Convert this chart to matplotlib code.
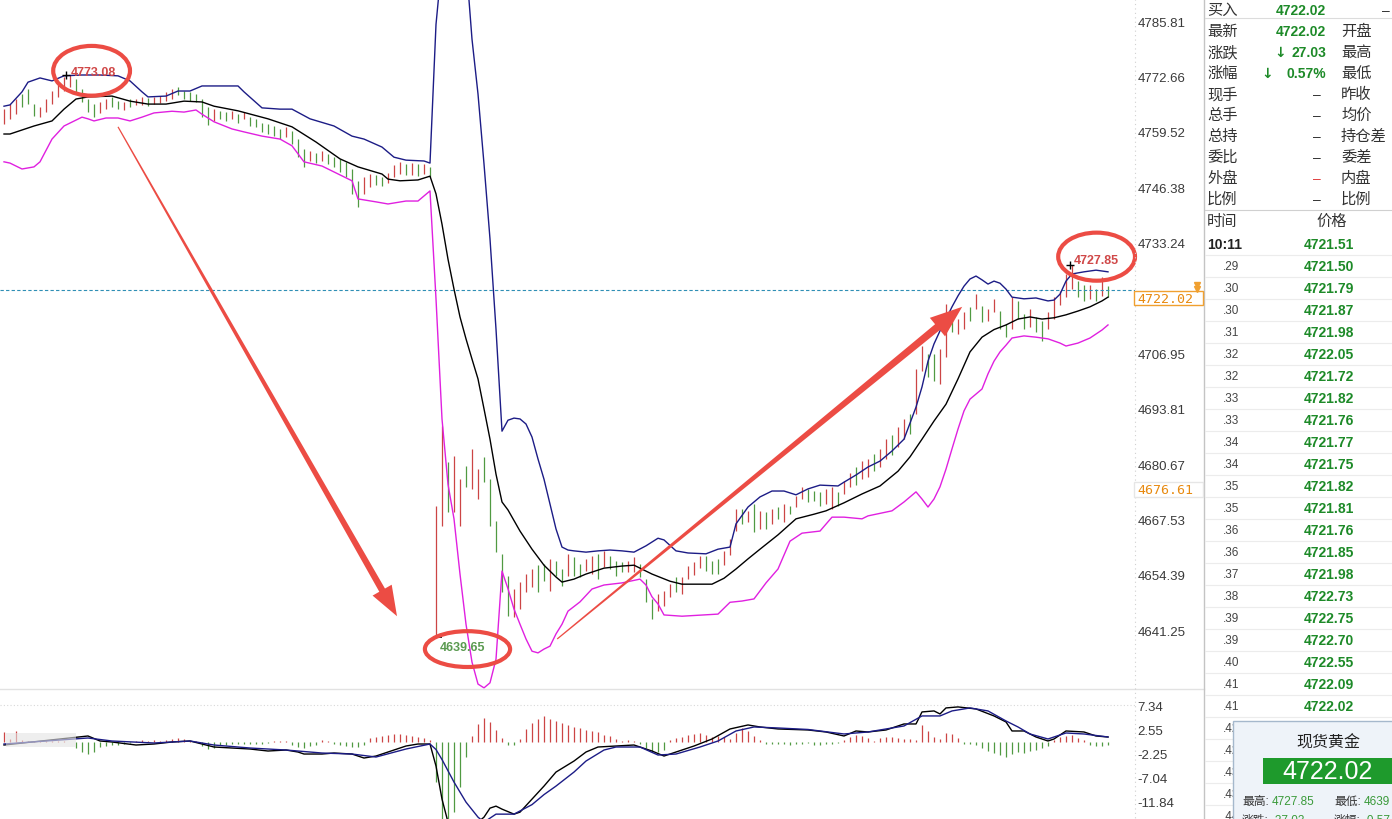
import numpy as np
import matplotlib
matplotlib.use("Agg")
import matplotlib.pyplot as plt
from matplotlib.patches import Ellipse, Polygon, Rectangle
from matplotlib.transforms import IdentityTransform

plt.rcParams['font.family'] = ['Liberation Sans', 'Noto Sans CJK SC', 'DejaVu Sans']

# ---------------- data ----------------
bar_hi = [4764.9, 4766.1, 4767.3, 4768.5, 4769.7, 4766.1, 4765.4, 4767.3, 4769.2, 4770.9,
          4772.5, 4773.08, 4772.1, 4769.7, 4767.3, 4766.1, 4766.6, 4767.3, 4767.8, 4766.8,
          4766.6, 4767.3, 4767.3, 4767.8, 4767.5, 4767.8, 4768.0, 4769.0, 4769.7, 4770.2,
          4769.2, 4769.0, 4768.5, 4767.3, 4765.4, 4764.9, 4764.5, 4764.2, 4764.5, 4763.7,
          4764.2, 4763.0, 4762.6, 4761.6, 4761.4, 4760.9, 4760.2, 4760.7, 4759.7, 4757.8,
          4755.4, 4755.0, 4754.5, 4755.0, 4754.3, 4753.5, 4753.1, 4752.4, 4750.7, 4747.9,
          4748.8, 4749.5, 4749.3, 4748.8, 4749.7, 4751.6, 4752.4, 4751.9, 4752.1, 4751.9,
          4751.9, 4751.2, 4670.7, 4689.7, 4681.2, 4682.6, 4677.2, 4680.2, 4684.3, 4679.5,
          4682.4, 4677.2, 4667.2, 4659.4, 4654.1, 4651.1, 4652.7, 4654.6, 4655.8, 4656.7,
          4657.0, 4658.2, 4657.7, 4655.8, 4659.4, 4658.6, 4657.0, 4658.2, 4658.9, 4659.4,
          4660.1, 4658.9, 4657.7, 4657.5, 4657.7, 4658.6, 4657.0, 4653.4, 4648.7, 4649.9,
          4650.6, 4652.2, 4653.9, 4653.9, 4656.5, 4657.5, 4658.9, 4658.9, 4657.7, 4658.2,
          4660.1, 4662.9, 4670.0, 4670.0, 4669.6, 4671.2, 4669.6, 4669.3, 4670.0, 4670.5,
          4671.2, 4670.7, 4673.1, 4675.3, 4674.8, 4674.3, 4674.1, 4674.8, 4675.3, 4674.1,
          4676.7, 4678.6, 4680.0, 4681.4, 4681.9, 4683.1, 4684.3, 4686.6, 4687.6, 4689.5,
          4691.4, 4692.6, 4703.3, 4708.7, 4706.8, 4706.8, 4708.0, 4718.7, 4715.1, 4715.1,
          4716.7, 4717.9, 4721.0, 4718.2, 4717.5, 4719.9, 4717.0, 4713.9, 4720.3, 4719.4,
          4716.3, 4717.5, 4715.6, 4714.6, 4716.7, 4720.3, 4721.8, 4725.8, 4727.85, 4724.1,
          4723.2, 4723.2, 4722.2, 4725.1, 4722.9]
bar_lo = [4761.4, 4762.6, 4763.7, 4765.4, 4766.1, 4763.3, 4763.0, 4764.2, 4766.1, 4767.8,
          4769.2, 4770.2, 4768.5, 4766.6, 4764.2, 4763.0, 4764.0, 4764.9, 4765.4, 4764.9,
          4764.7, 4765.4, 4765.9, 4765.9, 4765.6, 4766.1, 4766.4, 4766.8, 4767.3, 4768.3,
          4767.3, 4766.8, 4766.6, 4763.0, 4761.1, 4762.1, 4762.6, 4762.1, 4762.6, 4761.6,
          4762.6, 4760.9, 4760.7, 4759.5, 4759.0, 4758.5, 4757.8, 4758.3, 4756.6, 4753.5,
          4751.2, 4752.6, 4752.1, 4752.6, 4751.9, 4751.2, 4750.0, 4748.8, 4744.8, 4741.7,
          4744.8, 4746.4, 4746.9, 4746.7, 4747.4, 4748.8, 4749.5, 4749.3, 4749.3, 4749.0,
          4749.5, 4748.8, 4639.65, 4666.0, 4669.3, 4669.3, 4666.0, 4675.3, 4674.8, 4672.4,
          4676.4, 4666.0, 4659.8, 4650.3, 4644.6, 4644.4, 4646.3, 4650.3, 4651.5, 4650.3,
          4653.0, 4650.6, 4654.1, 4651.8, 4654.1, 4654.1, 4653.9, 4655.3, 4654.6, 4653.4,
          4656.3, 4655.8, 4654.1, 4655.1, 4655.1, 4655.1, 4653.9, 4648.0, 4643.9, 4645.8,
          4647.0, 4649.2, 4650.3, 4649.9, 4653.4, 4654.4, 4656.0, 4655.3, 4654.6, 4654.6,
          4656.7, 4659.1, 4664.8, 4666.5, 4667.0, 4664.6, 4665.3, 4665.3, 4666.5, 4667.7,
          4667.0, 4668.8, 4670.5, 4672.4, 4671.7, 4671.9, 4670.7, 4671.2, 4670.0, 4670.7,
          4673.6, 4675.3, 4675.7, 4677.2, 4677.6, 4679.0, 4680.0, 4681.9, 4682.8, 4684.7,
          4686.6, 4687.8, 4692.6, 4702.8, 4701.4, 4700.4, 4699.7, 4706.1, 4712.0, 4711.6,
          4712.7, 4714.6, 4717.5, 4714.4, 4714.6, 4716.7, 4712.7, 4710.8, 4712.7, 4715.1,
          4712.7, 4713.2, 4712.0, 4709.9, 4712.7, 4715.1, 4718.4, 4720.3, 4722.2, 4720.3,
          4719.4, 4719.9, 4719.4, 4720.6, 4720.3]
bar_dir = ("rrrgggrrrr" "rrggggrrgg" "rgrrgrrrrg" "gggggrggrg" "rggggggrgg"
           "grgrgggggg" "rrggrrrgrg" "rgrrgrrgrr" "gggggrrrrg" "grggrggrrg"
           "rgggrrgggr" "rrgrrrrggg" "rrrgrgrgrg" "rgrrgggrrg" "rrgrrgrrgr"
           "rgrrggrrgr" "rgrgrrggrg" "grggrrrrrg" "grgrg")

# Bollinger bands (bar index, price)
up_t = [0, 1, 3, 4, 6, 8, 10, 13, 16, 19, 21, 23, 24, 27, 29, 31, 33, 39, 40, 43,
        46, 48, 51, 55, 58, 60, 63, 65, 67, 70, 71, 72, 73, 74, 75, 76, 77, 78, 79, 80,
        81, 82, 83, 84, 85, 86, 87, 88, 89, 90, 91, 92, 93, 94, 95, 97, 99, 101, 103, 105,
        107, 109, 110, 112, 114, 117, 119, 121, 122, 124, 126, 128, 130, 132, 134, 136, 139, 140, 142, 144,
        146, 148, 150, 152, 153, 154, 155, 156, 157, 158, 159, 160, 161, 162, 163, 164, 165, 166, 167, 168,
        170, 172, 174, 175, 176, 177, 178, 180, 182, 184]
up_v = [4765.6, 4765.9, 4769.0, 4771.3, 4772.3, 4771.6, 4772.8, 4773.0, 4773.0, 4772.8,
        4771.6, 4769.0, 4767.8, 4768.0, 4769.2, 4769.2, 4770.4, 4770.4, 4769.0, 4765.2,
        4764.9, 4764.9, 4762.6, 4760.9, 4758.5, 4757.8, 4755.9, 4753.5, 4752.8, 4752.6,
        4752.1, 4785.0, 4800.0, 4808.0, 4812.0, 4810.0, 4800.0, 4781.5, 4768.5, 4751.9,
        4734.1, 4712.7, 4688.5, 4691.1, 4691.6, 4691.4, 4690.2, 4687.1, 4681.9, 4677.1,
        4671.2, 4665.3, 4661.0, 4660.3, 4660.1, 4659.8, 4660.1, 4660.3, 4660.1, 4659.8,
        4661.3, 4663.1, 4662.7, 4660.1, 4659.6, 4659.4, 4660.5, 4661.0, 4666.5, 4670.5,
        4672.9, 4674.3, 4674.3, 4673.4, 4674.8, 4675.7, 4675.5, 4676.4, 4678.1, 4680.0,
        4681.4, 4683.8, 4686.6, 4694.2, 4699.0, 4705.1, 4709.2, 4712.3, 4715.1, 4718.0,
        4720.6, 4722.9, 4724.6, 4725.3, 4724.4, 4723.4, 4724.1, 4723.6, 4722.2, 4720.3,
        4719.9, 4720.1, 4719.4, 4719.6, 4721.0, 4724.1, 4725.8, 4726.3, 4726.7, 4726.3]
mid_t = [0, 1, 5, 8, 10, 12, 14, 18, 21, 24, 27, 30, 33, 35, 39, 44, 48, 52, 56, 59,
         63, 64, 66, 69, 71, 72, 73, 74, 75, 76, 77, 78, 79, 80, 81, 82, 83, 84, 86, 88,
         90, 92, 93, 95, 97, 100, 103, 105, 106, 108, 111, 113, 118, 120, 122, 124, 126, 129, 132, 135,
         137, 140, 143, 146, 149, 151, 153, 155, 157, 159, 161, 163, 165, 167, 169, 171, 173, 175, 177, 179,
         181, 183, 184]
mid_v = [4759.0, 4759.0, 4760.9, 4762.1, 4764.9, 4767.3, 4767.8, 4768.0, 4766.8, 4766.1,
         4766.1, 4766.8, 4766.6, 4765.6, 4764.5, 4762.6, 4760.7, 4757.1, 4753.1, 4751.2,
         4749.5, 4748.3, 4747.9, 4748.1, 4749.0, 4744.8, 4737.6, 4729.3, 4722.2, 4715.6,
         4710.4, 4705.6, 4700.9, 4693.8, 4686.6, 4678.3, 4671.7, 4669.8, 4664.8, 4660.5,
         4656.7, 4653.9, 4652.7, 4653.4, 4654.6, 4656.0, 4656.5, 4656.7, 4656.0, 4654.6,
         4652.9, 4652.2, 4652.2, 4653.6, 4655.8, 4658.2, 4660.5, 4663.9, 4667.7, 4668.8,
         4669.6, 4671.5, 4673.6, 4675.5, 4679.0, 4682.4, 4686.6, 4690.9, 4694.9, 4700.9,
         4707.3, 4710.8, 4712.6, 4713.7, 4715.1, 4715.6, 4715.1, 4715.4, 4716.1, 4717.0,
         4718.0, 4719.4, 4720.3]
low_t = [0, 1, 3, 5, 6, 8, 10, 13, 14, 15, 17, 19, 21, 23, 25, 28, 30, 32, 33, 35,
         38, 40, 43, 46, 48, 50, 53, 55, 58, 59, 62, 64, 67, 69, 71, 72, 73, 74, 75, 76,
         77, 78, 79, 80, 81, 82, 83, 84, 85, 86, 87, 88, 89, 90, 91, 92, 93, 94, 96, 98,
         100, 103, 106, 107, 108, 109, 110, 113, 119, 121, 123, 125, 127, 129, 131, 133, 136, 138, 140, 143,
         144, 148, 150, 152, 153, 154, 155, 156, 157, 158, 159, 160, 161, 162, 163, 164, 165, 166, 167, 168,
         170, 172, 174, 176, 177, 179, 181, 183, 184]
low_v = [4752.4, 4752.1, 4750.7, 4751.2, 4752.4, 4757.8, 4760.9, 4763.0, 4762.6, 4762.1,
         4762.8, 4762.8, 4762.1, 4763.0, 4764.0, 4764.4, 4764.2, 4764.7, 4763.7, 4761.9,
         4760.2, 4759.5, 4758.5, 4757.8, 4756.2, 4752.4, 4751.4, 4750.0, 4747.9, 4743.6,
         4742.9, 4742.4, 4743.1, 4743.1, 4745.5, 4719.9, 4691.4, 4675.9, 4667.7, 4654.6,
         4642.7, 4633.7, 4628.5, 4627.6, 4628.8, 4634.4, 4655.3, 4651.1, 4646.3, 4642.7,
         4639.2, 4636.3, 4635.9, 4636.8, 4637.5, 4640.4, 4642.7, 4645.8, 4648.0, 4651.05,
         4652.0, 4652.5, 4653.4, 4652.0, 4649.2, 4647.5, 4644.9, 4644.6, 4645.1, 4647.9,
         4648.2, 4648.7, 4652.5, 4655.8, 4662.4, 4664.3, 4664.8, 4668.1, 4668.1, 4667.7,
         4668.4, 4669.6, 4671.7, 4674.1, 4672.4, 4670.5, 4672.4, 4675.3, 4679.5, 4684.3,
         4689.0, 4693.3, 4696.1, 4697.3, 4698.5, 4702.1, 4705.1, 4707.3, 4708.9, 4710.6,
         4711.1, 4710.8, 4710.4, 4709.4, 4708.7, 4709.4, 4710.6, 4712.5, 4713.7]

# MACD
dif_t = [0, 14, 16, 18, 22, 25, 28, 31, 33, 35, 38, 41, 44, 47, 49, 50, 53, 55, 58, 60,
         62, 64, 67, 69, 71, 72, 73, 74, 75, 76, 77, 78, 79, 80, 81, 82, 83, 85, 86, 88,
         90, 92, 95, 97, 99, 102, 105, 108, 110, 112, 115, 118, 121, 124, 126, 129, 134, 137, 140, 142,
         144, 147, 150, 152, 153, 155, 156, 157, 159, 162, 165, 167, 168, 170, 172, 174, 175, 177, 180, 182,
         184]
dif_v = [-0.6, 1.2, 0.2, 0.0, -0.6, -0.4, 0.0, 0.2, -0.4, -1.0,
         -1.2, -1.4, -1.8, -1.6, -2.0, -2.4, -2.4, -2.2, -2.4, -3.2,
         -2.8, -2.0, -0.8, -0.4, -0.4, -4.8, -11.4, -16.0, -19.0, -21.0,
         -21.0, -19.0, -16.0, -15.0, -13.2, -12.8, -13.4, -14.4, -14.0, -11.4,
         -8.8, -6.0, -3.8, -2.0, -1.0, -0.8, -0.6, -1.8, -2.8, -2.0,
         -0.8, 0.6, 2.6, 3.4, 3.0, 2.6, 2.4, 2.0, 1.2, 2.2,
         2.0, 2.4, 3.6, 3.6, 6.0, 6.2, 5.6, 6.8, 7.0, 6.6,
         5.2, 4.0, 2.2, 2.2, 1.0, 0.2, 0.6, 2.2, 2.0, 1.2,
         1.0]
dea_t = [0, 14, 18, 25, 31, 35, 41, 47, 53, 58, 62, 67, 71, 72, 73, 75, 77, 79, 80, 82,
         85, 88, 90, 92, 95, 97, 100, 102, 106, 109, 112, 116, 119, 122, 125, 129, 134, 140, 144, 150,
         153, 156, 158, 161, 164, 167, 169, 171, 174, 177, 180, 184]
dea_v = [-0.4, 0.8, 0.2, -0.2, 0.2, -0.6, -1.2, -1.6, -2.2, -2.4,
         -3.0, -1.4, -0.4, -1.5, -3.5, -8.0, -12.0, -15.0, -16.0, -14.4,
         -14.4, -12.5, -10.5, -8.8, -6.0, -3.8, -1.6, -1.0, -1.0, -2.6,
         -2.4, -1.0, 0.2, 2.2, 3.0, 2.8, 2.5, 1.6, 2.0, 3.2,
         5.2, 5.2, 6.2, 6.8, 6.2, 4.2, 3.0, 1.6, 0.6, 1.8,
         1.6, 1.0]
macd_hist = [2.0, 0.5, 2.2, 0.3, 0.2, 0.2, 0.2, 0.1, 0.1, 0.1,
             0.1, 0.0, -1.2, -2.0, -2.3, -2.0, -1.0, -0.8, -0.6, -0.5,
             -0.4, -0.2, 0.2, 0.3, 0.2, 0.3, 0.2, 0.3, 0.6, 0.7,
             0.6, 0.2, 0.1, -0.8, -1.4, -1.2, -0.6, -0.5, -0.4, -0.4,
             -0.3, -0.4, -0.3, -0.3, -0.2, 0.1, 0.2, 0.1, -0.6, -1.0,
             -1.2, -0.8, -0.5, 0.3, 0.2, -0.4, -0.6, -0.8, -1.0, -1.0,
             -0.6, 0.8, 1.0, 1.1, 1.4, 1.6, 1.5, 1.4, 1.2, 1.0,
             0.7, 0.3, -8.0, -16.0, -16.0, -14.0, -9.0, -3.0, 1.2, 3.5,
             4.8, 4.0, 2.4, 0.8, -0.6, -0.5, 0.6, 2.5, 3.8, 4.6,
             5.2, 4.6, 4.2, 3.8, 3.4, 3.0, 2.7, 2.4, 2.2, 2.0,
             1.4, 1.2, 0.6, 0.2, 0.3, 0.2, -0.4, -1.2, -1.8, -2.0,
             -1.5, 0.4, 0.8, 1.0, 1.3, 1.5, 1.7, 1.4, 1.0, 1.2,
             0.9, 0.5, 1.8, 2.7, 2.2, 1.2, 0.4, -0.3, -0.4, -0.3,
             -0.3, -0.5, -0.4, -0.3, -0.2, -0.5, -0.6, -0.4, -0.3, -0.2,
             0.3, 1.0, 1.3, 1.1, 0.8, 0.2, 0.8, 1.0, 0.9, 0.8,
             0.5, 0.6, 0.4, 3.3, 2.2, 1.0, 0.6, 1.8, 1.5, 0.8,
             -0.3, -0.3, -0.5, -1.2, -1.8, -2.2, -2.5, -3.0, -2.4, -2.0,
             -2.2, -1.8, -1.6, -1.2, -0.8, 0.4, 0.9, 1.2, 1.3, 0.8,
             0.3, -0.5, -0.7, -0.8, -0.6]

price_ticks = [4785.81, 4772.66, 4759.52, 4746.38, 4733.24, 4706.95,
               4693.81, 4680.67, 4667.53, 4654.39, 4641.25]
macd_ticks = [7.34, 2.55, -2.25, -7.04, -11.84]
last_price = 4722.02
mark_price = 4676.61
high_a, low_b, high_c = 4773.08, 4639.65, 4727.85

quote_left = ["买入", "最新", "涨跌", "涨幅", "现手", "总手", "总持", "委比", "外盘", "比例"]
quote_vals = ["4722.02", "4722.02", "27.03", "0.57%", "–", "–", "–", "–", "–", "–"]
quote_right = ["", "开盘", "最高", "最低", "昨收", "均价", "持仓差", "委差", "内盘", "比例"]
tick_times = ["10:11", ".29", ".30", ".30", ".31", ".32", ".32", ".33", ".33", ".34", ".34",
              ".35", ".35", ".36", ".36", ".37", ".38", ".39", ".39", ".40", ".41", ".41",
              ".42", ".42", ".43", ".43", ".44"]
tick_prices = ["4721.51", "4721.50", "4721.79", "4721.87", "4721.98", "4722.05", "4721.72",
               "4721.82", "4721.76", "4721.77", "4721.75", "4721.82", "4721.81", "4721.76",
               "4721.85", "4721.98", "4722.73", "4722.75", "4722.70", "4722.55", "4722.09",
               "4722.02"]

# ---------------- colours ----------------
RED, GREEN = '#cc4545', '#509a42'
NAVY, MAG = '#1c1c86', '#e020e0'
ANNO = '#ec4c44'
VGREEN = '#1d8a28'

W, H = 1392, 820
fig = plt.figure(figsize=(W / 100, H / 100), dpi=100)
fig.patch.set_facecolor('white')


def px_axes(x0, y0, x1, y1):
    return fig.add_axes([x0 / W, 1 - y1 / H, (x1 - x0) / W, (y1 - y0) / H])


idx = np.arange(len(bar_hi))
xlim = (-4 / 6, 1131 / 6)

# ---------------- main price panel ----------------
ax = px_axes(0, 0, 1135, 690)
ax.set_xlim(*xlim)
ax.set_ylim(4627.33, 4791.03)
cols = [RED if c == 'r' else GREEN for c in bar_dir]
ax.vlines(idx, bar_lo, bar_hi, colors=cols, linewidth=0.9, zorder=2)
ax.plot(up_t, up_v, color=NAVY, lw=1.0, zorder=3)
ax.plot(mid_t, mid_v, color='black', lw=1.0, zorder=3)
ax.plot(low_t, low_v, color=MAG, lw=1.0, zorder=3)
ax.axhline(last_price, color='#2f8fb5', lw=0.8, ls=(0, (3, 2)), zorder=2)
ax.yaxis.tick_right()
ax.set_yticks(price_ticks)
ax.set_yticklabels([f"{v:.2f}" for v in price_ticks])
ax.tick_params(axis='y', length=0, pad=2, labelsize=9.5, labelcolor='#3a3a3a')
ax.set_xticks([])
for s in ax.spines.values():
    s.set_visible(False)

# extreme markers and labels
ax.plot([10.3], [high_a], marker='+', color='black', ms=6, mew=1, zorder=6)
ax.plot([177.7], [high_c], marker='+', color='black', ms=6, mew=1, zorder=6)
ax.plot([72.4], [low_b], marker='_', color='black', ms=6, mew=1.2, zorder=6)
ax.text(14.9, 4773.6, f"{high_a:.2f}", color='#d04848', fontsize=9, fontweight='bold',
        ha='center', va='center', zorder=6)
ax.text(76.4, 4637.3, f"{low_b:.2f}", color='#5a9a50', fontsize=9, fontweight='bold',
        ha='center', va='center', zorder=6)
ax.text(182.0, 4729.1, f"{high_c:.2f}", color='#d04848', fontsize=9, fontweight='bold',
        ha='center', va='center', zorder=6)
for cx, cy, w, h in [(14.6, 4774.0, 12.8, 11.8), (77.25, 4636.8, 14.2, 8.5),
                     (182.1, 4729.9, 12.8, 11.4)]:
    ax.add_patch(Ellipse((cx, cy), w, h, fill=False, ec=ANNO, lw=3, zorder=7, clip_on=False))

# ---------------- MACD panel ----------------
ax2 = px_axes(0, 692, 1135, 820)
ax2.set_xlim(*xlim)
ax2.set_ylim(-15.37, 10.18)
hcols = [RED if v >= 0 else GREEN for v in macd_hist]
ax2.vlines(idx, 0, macd_hist, colors=hcols, linewidth=0.9, zorder=2)
ax2.plot(dif_t, dif_v, color='black', lw=1.0, zorder=3)
ax2.plot(dea_t, dea_v, color=NAVY, lw=1.0, zorder=3)
ax2.axhline(macd_ticks[0], color='#d8d8d8', lw=0.8, ls=(0, (1, 2)), zorder=1)
ax2.yaxis.tick_right()
ax2.set_yticks(macd_ticks)
ax2.set_yticklabels([f"{v:.2f}" for v in macd_ticks])
ax2.tick_params(axis='y', length=0, pad=2, labelsize=9.5, labelcolor='#3a3a3a')
ax2.set_xticks([])
for s in ax2.spines.values():
    s.set_visible(False)


# ---------------- tapered arrows ----------------
def taper_arrow(a, b, w0, w1, head_len, head_w):
    p0 = ax.transData.transform(a)
    p1 = ax.transData.transform(b)
    d = p1 - p0
    u = d / np.hypot(*d)
    n = np.array([-u[1], u[0]])
    base = p1 - u * head_len
    pts = [p0 + n * w0 / 2, base + n * w1 / 2, base + n * head_w / 2, p1,
           base - n * head_w / 2, base - n * w1 / 2, p0 - n * w0 / 2]
    fig.add_artist(Polygon(pts, closed=True, transform=IdentityTransform(),
                           fc=ANNO, ec='none', zorder=8))


taper_arrow((19.0, 4760.7), (65.5, 4644.6), 1.2, 6.5, 30, 22)
taper_arrow((92.2, 4639.2), (159.7, 4718.0), 1.2, 7.5, 32, 24)

# ---------------- overlay in pixel space ----------------
ov = fig.add_axes([0, 0, 1, 1])
ov.set_xlim(0, W)
ov.set_ylim(H, 0)
ov.axis('off')

ov.plot([0, 1204], [690, 690], color='#e2e2e2', lw=1)
ov.plot([1135, 1135], [0, 820], color='#d0d0d0', lw=0.8, ls=(0, (1, 3)))
ov.plot([1204, 1204], [0, 820], color='#c4c4c4', lw=1)

# price flags
ov.add_patch(Rectangle((1134, 292), 69, 14, fc='white', ec='#f0a030', lw=1, zorder=3))
ov.text(1137, 299.5, f"{last_price:.2f}", color='#e88a10', fontsize=9.5,
        family='DejaVu Sans Mono', va='center', ha='left', zorder=4)
ov.plot([1197, 1197], [286, 290], ls='none', marker='v', ms=4, color='#f0a030', zorder=4)
ov.add_patch(Rectangle((1134, 483), 69, 15, fc='white', ec='#e6e6e6', lw=1, zorder=3))
ov.text(1137, 490.5, f"{mark_price:.2f}", color='#e88a10', fontsize=9.5,
        family='DejaVu Sans Mono', va='center', ha='left', zorder=4)

# MACD smudge at the left edge
ov.add_patch(Rectangle((6, 734), 70, 14, fc='#e4e4e4', ec='none', alpha=0.6, zorder=2))

# quote table
for k in range(len(quote_left)):
    y = 11 + 21 * k
    ov.text(1207, y, quote_left[k], fontsize=11, color='#333333', va='center')
    val = quote_vals[k]
    if val == "–":
        vc = '#e04040' if quote_left[k] == "外盘" else '#333333'
        ov.text(1317, y, val, fontsize=10, color=vc, va='center', ha='center')
    else:
        ov.text(1326, y, val, fontsize=10, color=VGREEN, fontweight='bold', va='center', ha='right')
        if k in (2, 3):
            x_arrow = 1286 if k == 2 else 1273
            ov.text(x_arrow, y, "↓", fontsize=10, color=VGREEN, fontweight='bold',
                    va='center', ha='right', family='DejaVu Sans')
    if quote_right[k]:
        ov.text(1341, y, quote_right[k], fontsize=11, color='#333333', va='center')
ov.text(1390, 11, "–", fontsize=10, color='#333333', va='center', ha='right')
ov.plot([1205, 1392], [19, 19], color='#dcdcdc', lw=0.8)
ov.plot([1205, 1392], [211, 211], color='#d0d0d0', lw=0.8)

# tick list
ov.text(1207, 222, "时间", fontsize=11, color='#333333', va='center')
ov.text(1332, 222, "价格", fontsize=11, color='#333333', va='center', ha='center')
for k, t in enumerate(tick_times):
    y = 245 + 22 * k
    if k == 0:
        ov.text(1207, y, t, fontsize=10, color='#222222', fontweight='bold', va='center')
    else:
        ov.text(1223, y, t, fontsize=8.5, color='#444444', va='center')
    if k < len(tick_prices):
        ov.text(1329, y, tick_prices[k], fontsize=10, color=VGREEN, fontweight='bold',
                va='center', ha='center')
    ov.plot([1205, 1392], [y + 11, y + 11], color='#ececec', lw=0.8)

# popup box (its lower rows are cut by the window edge, as in the screenshot)
ov.add_patch(Rectangle((1233, 722), 170, 110, fc='#eef3f9', ec='#a5b8cc', lw=1, zorder=5))
ov.text(1328, 743, "现货黄金", fontsize=11.5, color='#222222', ha='center', va='center', zorder=6)
ov.add_patch(Rectangle((1263, 759), 140, 26, fc='#1e9a2c', ec='none', zorder=6))
ov.text(1328, 772, f"{last_price:.2f}", fontsize=18, color='white', ha='center', va='center', zorder=7)
ov.text(1242, 802, "最高:", fontsize=8.5, color='#333333', va='center', zorder=6)
ov.text(1272, 802, f"{high_c:.2f}", fontsize=8.5, color='#3a9a3a', va='center', zorder=6)
ov.text(1334, 802, "最低:", fontsize=8.5, color='#333333', va='center', zorder=6)
ov.text(1364, 802, "4639", fontsize=8.5, color='#3a9a3a', va='center', zorder=6)
ov.text(1242, 821, "涨跌:", fontsize=8.5, color='#333333', va='center', zorder=6)
ov.text(1272, 821, "-27.03", fontsize=8.5, color='#3a9a3a', va='center', zorder=6)
ov.text(1334, 821, "涨幅:", fontsize=8.5, color='#333333', va='center', zorder=6)
ov.text(1364, 821, "-0.57", fontsize=8.5, color='#3a9a3a', va='center', zorder=6)

fig.savefig("out.png", dpi=100, facecolor='white')
